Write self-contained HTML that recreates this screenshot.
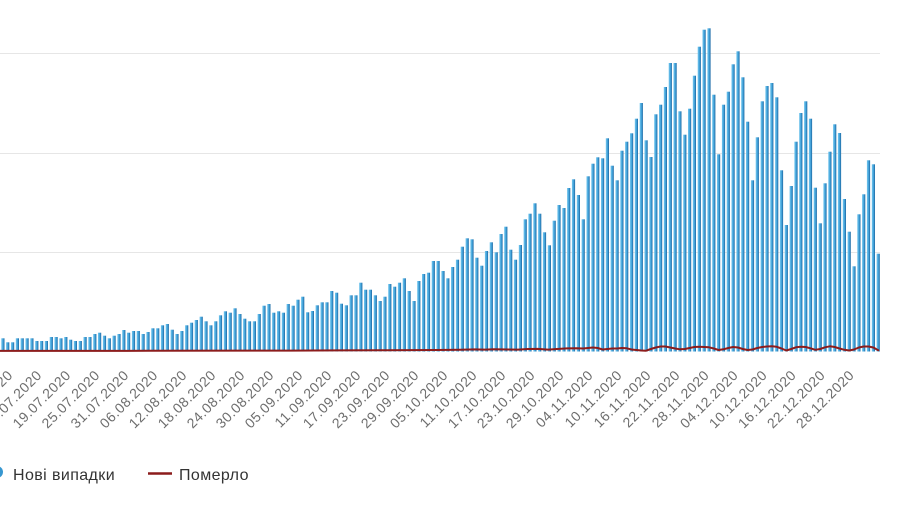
<!DOCTYPE html>
<html>
<head>
<meta charset="utf-8">
<style>
html,body{margin:0;padding:0;background:#fff;width:900px;height:505px;overflow:hidden;}
svg{display:block;overflow:hidden;}
.lbl{font-family:"Liberation Sans",sans-serif;font-size:14px;fill:#6e6e6e;letter-spacing:0.5px;}
.leg{font-family:"Liberation Sans",sans-serif;font-size:16px;fill:#333;letter-spacing:0.4px;}
</style>
</head>
<body>
<svg width="900" height="505" viewBox="0 0 900 505" xmlns="http://www.w3.org/2000/svg">
<defs>
<linearGradient id="g" x1="0" y1="0" x2="1" y2="0">
<stop offset="0" stop-color="#74c6ee"/>
<stop offset="0.55" stop-color="#41a2da"/>
<stop offset="1" stop-color="#1c66a0"/>
</linearGradient>
<clipPath id="c"><rect x="0" y="0" width="900" height="351.5"/></clipPath>
<clipPath id="all"><rect x="0" y="0" width="900" height="505"/></clipPath>
</defs>
<g clip-path="url(#all)">
<rect width="900" height="505" fill="#fff"/>
<g stroke="#e6e6e6" stroke-width="1">
<line x1="0" y1="53.5" x2="880" y2="53.5"/>
<line x1="0" y1="153.5" x2="880" y2="153.5"/>
<line x1="0" y1="252.5" x2="880" y2="252.5"/>
</g>
<g clip-path="url(#c)" fill="url(#g)">
<rect x="1.3" y="338.3" width="3.2" height="14"/>
<rect x="6.1" y="342.3" width="3.2" height="10"/>
<rect x="11.0" y="342.3" width="3.2" height="10"/>
<rect x="15.8" y="338.3" width="3.2" height="14"/>
<rect x="20.6" y="338.3" width="3.2" height="14"/>
<rect x="25.5" y="338.3" width="3.2" height="14"/>
<rect x="30.3" y="338.3" width="3.2" height="14"/>
<rect x="35.2" y="341" width="3.2" height="11"/>
<rect x="40.0" y="341" width="3.2" height="11"/>
<rect x="44.8" y="341" width="3.2" height="11"/>
<rect x="49.7" y="337" width="3.2" height="15"/>
<rect x="54.5" y="337" width="3.2" height="15"/>
<rect x="59.3" y="338.3" width="3.2" height="14"/>
<rect x="64.2" y="337" width="3.2" height="15"/>
<rect x="69.0" y="339.7" width="3.2" height="13"/>
<rect x="73.8" y="341" width="3.2" height="11"/>
<rect x="78.7" y="341" width="3.2" height="11"/>
<rect x="83.5" y="337" width="3.2" height="15"/>
<rect x="88.3" y="337" width="3.2" height="15"/>
<rect x="93.2" y="334" width="3.2" height="18"/>
<rect x="98.0" y="332.7" width="3.2" height="20"/>
<rect x="102.9" y="335.7" width="3.2" height="17"/>
<rect x="107.7" y="338.3" width="3.2" height="14"/>
<rect x="112.5" y="335.7" width="3.2" height="17"/>
<rect x="117.4" y="334" width="3.2" height="18"/>
<rect x="122.2" y="330" width="3.2" height="22"/>
<rect x="127.0" y="332.7" width="3.2" height="20"/>
<rect x="131.9" y="331" width="3.2" height="21"/>
<rect x="136.7" y="331" width="3.2" height="21"/>
<rect x="141.5" y="334" width="3.2" height="18"/>
<rect x="146.4" y="332" width="3.2" height="20"/>
<rect x="151.2" y="328.3" width="3.2" height="24"/>
<rect x="156.1" y="328.3" width="3.2" height="24"/>
<rect x="160.9" y="325.3" width="3.2" height="27"/>
<rect x="165.7" y="324" width="3.2" height="28"/>
<rect x="170.6" y="329.7" width="3.2" height="23"/>
<rect x="175.4" y="334" width="3.2" height="18"/>
<rect x="180.2" y="331" width="3.2" height="21"/>
<rect x="185.1" y="325.3" width="3.2" height="27"/>
<rect x="189.9" y="322.7" width="3.2" height="30"/>
<rect x="194.7" y="320" width="3.2" height="32"/>
<rect x="199.6" y="316.7" width="3.2" height="35"/>
<rect x="204.4" y="321.3" width="3.2" height="31"/>
<rect x="209.2" y="325.3" width="3.2" height="27"/>
<rect x="214.1" y="321.3" width="3.2" height="31"/>
<rect x="218.9" y="315.3" width="3.2" height="37"/>
<rect x="223.8" y="311.3" width="3.2" height="41"/>
<rect x="228.6" y="312.7" width="3.2" height="40"/>
<rect x="233.4" y="308.3" width="3.2" height="44"/>
<rect x="238.3" y="314" width="3.2" height="38"/>
<rect x="243.1" y="318.7" width="3.2" height="34"/>
<rect x="247.9" y="321.3" width="3.2" height="31"/>
<rect x="252.8" y="321.3" width="3.2" height="31"/>
<rect x="257.6" y="314" width="3.2" height="38"/>
<rect x="262.4" y="305.7" width="3.2" height="47"/>
<rect x="267.3" y="304" width="3.2" height="48"/>
<rect x="272.1" y="312.7" width="3.2" height="40"/>
<rect x="277.0" y="311.3" width="3.2" height="41"/>
<rect x="281.8" y="312.7" width="3.2" height="40"/>
<rect x="286.6" y="304" width="3.2" height="48"/>
<rect x="291.5" y="305.7" width="3.2" height="47"/>
<rect x="296.3" y="299.7" width="3.2" height="53"/>
<rect x="301.1" y="296.7" width="3.2" height="56"/>
<rect x="306.0" y="312.3" width="3.2" height="40"/>
<rect x="310.8" y="311" width="3.2" height="41"/>
<rect x="315.6" y="305.3" width="3.2" height="47"/>
<rect x="320.5" y="302.3" width="3.2" height="50"/>
<rect x="325.3" y="302.3" width="3.2" height="50"/>
<rect x="330.1" y="291" width="3.2" height="61"/>
<rect x="335.0" y="292.7" width="3.2" height="60"/>
<rect x="339.8" y="303.7" width="3.2" height="49"/>
<rect x="344.7" y="305.3" width="3.2" height="47"/>
<rect x="349.5" y="295.3" width="3.2" height="57"/>
<rect x="354.3" y="295.3" width="3.2" height="57"/>
<rect x="359.2" y="282.7" width="3.2" height="70"/>
<rect x="364.0" y="289.7" width="3.2" height="63"/>
<rect x="368.8" y="289.7" width="3.2" height="63"/>
<rect x="373.7" y="295.3" width="3.2" height="57"/>
<rect x="378.5" y="301" width="3.2" height="51"/>
<rect x="383.3" y="296.7" width="3.2" height="56"/>
<rect x="388.2" y="284" width="3.2" height="68"/>
<rect x="393.0" y="286.7" width="3.2" height="66"/>
<rect x="397.9" y="282.7" width="3.2" height="70"/>
<rect x="402.7" y="278.3" width="3.2" height="74"/>
<rect x="407.5" y="291" width="3.2" height="61"/>
<rect x="412.4" y="301" width="3.2" height="51"/>
<rect x="417.2" y="281" width="3.2" height="71"/>
<rect x="422.0" y="274" width="3.2" height="78"/>
<rect x="426.9" y="272.7" width="3.2" height="80"/>
<rect x="431.7" y="261" width="3.2" height="91"/>
<rect x="436.5" y="261" width="3.2" height="91"/>
<rect x="441.4" y="271" width="3.2" height="81"/>
<rect x="446.2" y="278.3" width="3.2" height="74"/>
<rect x="451.0" y="267" width="3.2" height="85"/>
<rect x="455.9" y="259.7" width="3.2" height="92"/>
<rect x="460.7" y="246.7" width="3.2" height="105"/>
<rect x="465.6" y="238.3" width="3.2" height="114"/>
<rect x="470.4" y="239.3" width="3.2" height="113"/>
<rect x="475.2" y="257.7" width="3.2" height="94"/>
<rect x="480.1" y="265.7" width="3.2" height="86"/>
<rect x="484.9" y="251" width="3.2" height="101"/>
<rect x="489.7" y="242.3" width="3.2" height="110"/>
<rect x="494.6" y="252.3" width="3.2" height="100"/>
<rect x="499.4" y="234" width="3.2" height="118"/>
<rect x="504.2" y="226.7" width="3.2" height="125"/>
<rect x="509.1" y="249.7" width="3.2" height="102"/>
<rect x="513.9" y="259.7" width="3.2" height="92"/>
<rect x="518.8" y="245" width="3.2" height="107"/>
<rect x="523.6" y="219.3" width="3.2" height="133"/>
<rect x="528.4" y="213.7" width="3.2" height="138"/>
<rect x="533.3" y="203.3" width="3.2" height="149"/>
<rect x="538.1" y="213.7" width="3.2" height="138"/>
<rect x="542.9" y="232.3" width="3.2" height="120"/>
<rect x="547.8" y="245.3" width="3.2" height="107"/>
<rect x="552.6" y="220.7" width="3.2" height="131"/>
<rect x="557.4" y="205" width="3.2" height="147"/>
<rect x="562.3" y="208" width="3.2" height="144"/>
<rect x="567.1" y="188" width="3.2" height="164"/>
<rect x="571.9" y="179.3" width="3.2" height="173"/>
<rect x="576.8" y="195" width="3.2" height="157"/>
<rect x="581.6" y="219.3" width="3.2" height="133"/>
<rect x="586.5" y="176.3" width="3.2" height="176"/>
<rect x="591.3" y="163.7" width="3.2" height="188"/>
<rect x="596.1" y="157.3" width="3.2" height="195"/>
<rect x="601.0" y="158.3" width="3.2" height="194"/>
<rect x="605.8" y="138.3" width="3.2" height="214"/>
<rect x="610.6" y="165.7" width="3.2" height="186"/>
<rect x="615.5" y="180.3" width="3.2" height="172"/>
<rect x="620.3" y="150.7" width="3.2" height="201"/>
<rect x="625.1" y="141.7" width="3.2" height="210"/>
<rect x="630.0" y="133.3" width="3.2" height="219"/>
<rect x="634.8" y="118.7" width="3.2" height="233"/>
<rect x="639.7" y="103" width="3.2" height="249"/>
<rect x="644.5" y="140.3" width="3.2" height="212"/>
<rect x="649.3" y="157" width="3.2" height="195"/>
<rect x="654.2" y="114.3" width="3.2" height="238"/>
<rect x="659.0" y="104.7" width="3.2" height="247"/>
<rect x="663.8" y="87" width="3.2" height="265"/>
<rect x="668.7" y="63" width="3.2" height="289"/>
<rect x="673.5" y="63" width="3.2" height="289"/>
<rect x="678.3" y="111.3" width="3.2" height="241"/>
<rect x="683.2" y="134.7" width="3.2" height="217"/>
<rect x="688.0" y="108.7" width="3.2" height="243"/>
<rect x="692.8" y="75.7" width="3.2" height="276"/>
<rect x="697.7" y="46.7" width="3.2" height="305"/>
<rect x="702.5" y="29.7" width="3.2" height="322"/>
<rect x="707.4" y="28.3" width="3.2" height="324"/>
<rect x="712.2" y="94.7" width="3.2" height="257"/>
<rect x="717.0" y="154.3" width="3.2" height="198"/>
<rect x="721.9" y="104.7" width="3.2" height="247"/>
<rect x="726.7" y="91.7" width="3.2" height="260"/>
<rect x="731.5" y="64.3" width="3.2" height="288"/>
<rect x="736.4" y="51.3" width="3.2" height="301"/>
<rect x="741.2" y="77.3" width="3.2" height="275"/>
<rect x="746.0" y="121.7" width="3.2" height="230"/>
<rect x="750.9" y="180.3" width="3.2" height="172"/>
<rect x="755.7" y="137.3" width="3.2" height="215"/>
<rect x="760.6" y="101.3" width="3.2" height="251"/>
<rect x="765.4" y="86" width="3.2" height="266"/>
<rect x="770.2" y="83" width="3.2" height="269"/>
<rect x="775.1" y="97.3" width="3.2" height="255"/>
<rect x="779.9" y="170.3" width="3.2" height="182"/>
<rect x="784.7" y="225" width="3.2" height="127"/>
<rect x="789.6" y="186" width="3.2" height="166"/>
<rect x="794.4" y="141.7" width="3.2" height="210"/>
<rect x="799.2" y="113" width="3.2" height="239"/>
<rect x="804.1" y="101.3" width="3.2" height="251"/>
<rect x="808.9" y="118.7" width="3.2" height="233"/>
<rect x="813.7" y="187.7" width="3.2" height="164"/>
<rect x="818.6" y="223.3" width="3.2" height="129"/>
<rect x="823.4" y="183.3" width="3.2" height="169"/>
<rect x="828.3" y="151.7" width="3.2" height="200"/>
<rect x="833.1" y="124.3" width="3.2" height="228"/>
<rect x="837.9" y="133" width="3.2" height="219"/>
<rect x="842.8" y="199" width="3.2" height="153"/>
<rect x="847.6" y="231.7" width="3.2" height="120"/>
<rect x="852.4" y="266.3" width="3.2" height="86"/>
<rect x="857.3" y="214.3" width="3.2" height="138"/>
<rect x="862.1" y="194.3" width="3.2" height="158"/>
<rect x="866.9" y="160.3" width="3.2" height="192"/>
<rect x="871.8" y="164.3" width="3.2" height="188"/>
<rect x="876.6" y="253.7" width="3.2" height="98"/>
</g>
<polyline fill="none" stroke="#8c1c1c" stroke-width="2" stroke-linejoin="round" stroke-linecap="round" points="0,350.9 148,350.8 291,350.6 340,350.4 388,350.2 436,350.0 460,349.8 475,349.4 485,349.6 494,349.2 509,349.5 518,349.6 528,349.0 538,348.9 548,349.6 557,349.0 567,348.4 577,348.2 583.2,348.5 588.1,348 592.9,347.5 597.7,348 602.6,349.5 607.4,349 612.2,348.5 617.1,348.5 621.9,348 626.7,348.3 631.6,349.5 636.4,350 641.3,350.5 646.1,350.7 650.9,349 655.8,347.5 660.6,346.5 665.4,346.5 670.3,347.5 675.1,348.5 679.9,349.3 684.8,349 689.6,348 694.4,347 699.3,346.8 704.1,347 709.0,347.3 713.8,348.5 718.6,350 723.5,349.3 728.3,348 733.1,347 738.0,347.5 742.8,349 747.6,350 752.5,349.5 757.3,348 762.2,347 767.0,346.5 771.8,346.3 776.7,346.8 781.5,348.5 786.3,350.5 791.2,349 796.0,347.3 800.8,346.8 805.7,347 810.5,348.3 815.3,349.8 820.2,349 825.0,347.3 829.9,346.3 834.7,347 839.5,348.5 844.4,349.8 849.2,350.5 854.0,349.5 858.9,347.5 863.7,346.5 868.5,346.5 873.4,347.5 878.2,350.3"/>
<g class="lbl" text-anchor="end">
<text transform="translate(13.6,376) rotate(-45)">07.07.2020</text>
<text transform="translate(42.6,376) rotate(-45)">13.07.2020</text>
<text transform="translate(71.6,376) rotate(-45)">19.07.2020</text>
<text transform="translate(100.6,376) rotate(-45)">25.07.2020</text>
<text transform="translate(129.6,376) rotate(-45)">31.07.2020</text>
<text transform="translate(158.6,376) rotate(-45)">06.08.2020</text>
<text transform="translate(187.7,376) rotate(-45)">12.08.2020</text>
<text transform="translate(216.7,376) rotate(-45)">18.08.2020</text>
<text transform="translate(245.7,376) rotate(-45)">24.08.2020</text>
<text transform="translate(274.7,376) rotate(-45)">30.08.2020</text>
<text transform="translate(303.7,376) rotate(-45)">05.09.2020</text>
<text transform="translate(332.7,376) rotate(-45)">11.09.2020</text>
<text transform="translate(361.8,376) rotate(-45)">17.09.2020</text>
<text transform="translate(390.8,376) rotate(-45)">23.09.2020</text>
<text transform="translate(419.8,376) rotate(-45)">29.09.2020</text>
<text transform="translate(448.8,376) rotate(-45)">05.10.2020</text>
<text transform="translate(477.8,376) rotate(-45)">11.10.2020</text>
<text transform="translate(506.8,376) rotate(-45)">17.10.2020</text>
<text transform="translate(535.9,376) rotate(-45)">23.10.2020</text>
<text transform="translate(564.9,376) rotate(-45)">29.10.2020</text>
<text transform="translate(593.9,376) rotate(-45)">04.11.2020</text>
<text transform="translate(622.9,376) rotate(-45)">10.11.2020</text>
<text transform="translate(651.9,376) rotate(-45)">16.11.2020</text>
<text transform="translate(680.9,376) rotate(-45)">22.11.2020</text>
<text transform="translate(710.0,376) rotate(-45)">28.11.2020</text>
<text transform="translate(739.0,376) rotate(-45)">04.12.2020</text>
<text transform="translate(768.0,376) rotate(-45)">10.12.2020</text>
<text transform="translate(797.0,376) rotate(-45)">16.12.2020</text>
<text transform="translate(826.0,376) rotate(-45)">22.12.2020</text>
<text transform="translate(855.0,376) rotate(-45)">28.12.2020</text>
</g>
<circle cx="-3" cy="472" r="6" fill="#3797d0"/>
<text class="leg" x="13" y="480">Нові випадки</text>
<line x1="148" y1="473.5" x2="172" y2="473.5" stroke="#8c1c1c" stroke-width="2.5"/>
<text class="leg" x="179" y="480">Померло</text>
</g>
</svg>
</body>
</html>
